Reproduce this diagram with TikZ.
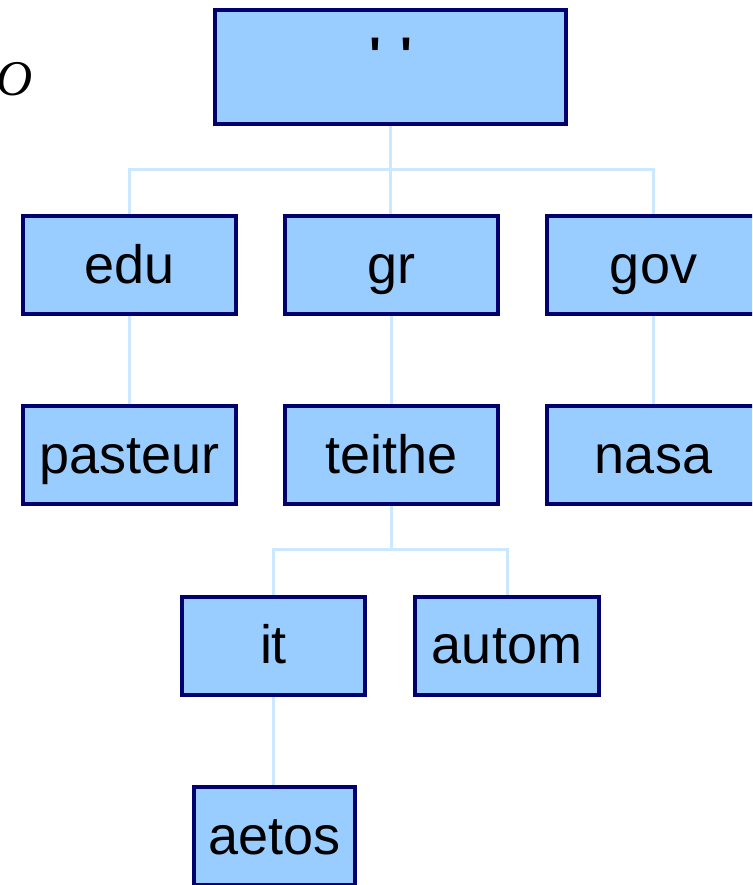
\documentclass[tikz,border=0pt]{standalone}
\usepackage{fontspec}
\setmainfont{Liberation Sans}
\newfontfamily\rawsans{Liberation Sans}[Ligatures=TeXOff]
\newfontfamily\serifit{Liberation Serif}
\usetikzlibrary{backgrounds}
\definecolor{boxfill}{RGB}{153,204,255}
\definecolor{boxline}{RGB}{0,0,110}
\definecolor{linkcol}{RGB}{204,232,255}
\begin{document}
\begin{tikzpicture}[x=1pt,y=-1pt,
  dombox/.style={draw=boxline, fill=boxfill, line width=4pt, inner sep=0pt,
    minimum height=98pt, font=\fontsize{54}{60}\selectfont,
    text height=38pt, text depth=2pt},
  link/.style={draw=linkcol, line width=3pt}]
  \clip (0,0) rectangle (752,885);
  % root of the name tree
  \node[dombox, minimum width=351pt, minimum height=114pt,
        text height=12pt, text depth=0pt] (root) at (390.5,67)
        {\rawsans\bfseries\fontsize{50}{56}\selectfont '\hspace{19pt}'};
  % top-level domains
  \node[dombox, minimum width=213pt] (edu) at (129.5,265) {edu};
  \node[dombox, minimum width=213pt] (gr)  at (391.5,265) {gr};
  \node[dombox, minimum width=213pt] (gov) at (653.5,265) {gov};
  % second level
  \node[dombox, minimum width=213pt] (pasteur) at (129.5,455) {pasteur};
  \node[dombox, minimum width=213pt] (teithe)  at (391.5,455) {teithe};
  \node[dombox, minimum width=213pt] (nasa)    at (653.5,455) {nasa};
  % third level
  \node[dombox, minimum width=183pt] (it)    at (273.5,645.5) {it};
  \node[dombox, minimum width=184pt] (autom) at (507,645.5) {autom};
  % fourth level
  \node[dombox, minimum width=161pt] (aetos) at (274.5,836) {aetos};
  % letter at the upper left
  \node[anchor=base east, inner sep=0pt, font=\serifit\itshape\fontsize{50}{56}\selectfont]
    (letter) at (33,96) {O};
  \begin{scope}[on background layer]
    \draw[link] (root.south) -- ++(0,44) -| (edu.north);
    \draw[link] (root.south) -- ++(0,44) -| (gov.north);
    \draw[link] (root.south) -- (gr.north -| root.south);
    \draw[link] (edu.south) -- (pasteur.north);
    \draw[link] (gr.south) -- (teithe.north);
    \draw[link] (gov.south) -- (nasa.north);
    \draw[link] (teithe.south) -- ++(0,43) -| (it.north);
    \draw[link] (teithe.south) -- ++(0,43) -| (autom.north);
    \draw[link] (it.south) -- (aetos.north -| it.south);
  \end{scope}
\end{tikzpicture}
\end{document}
